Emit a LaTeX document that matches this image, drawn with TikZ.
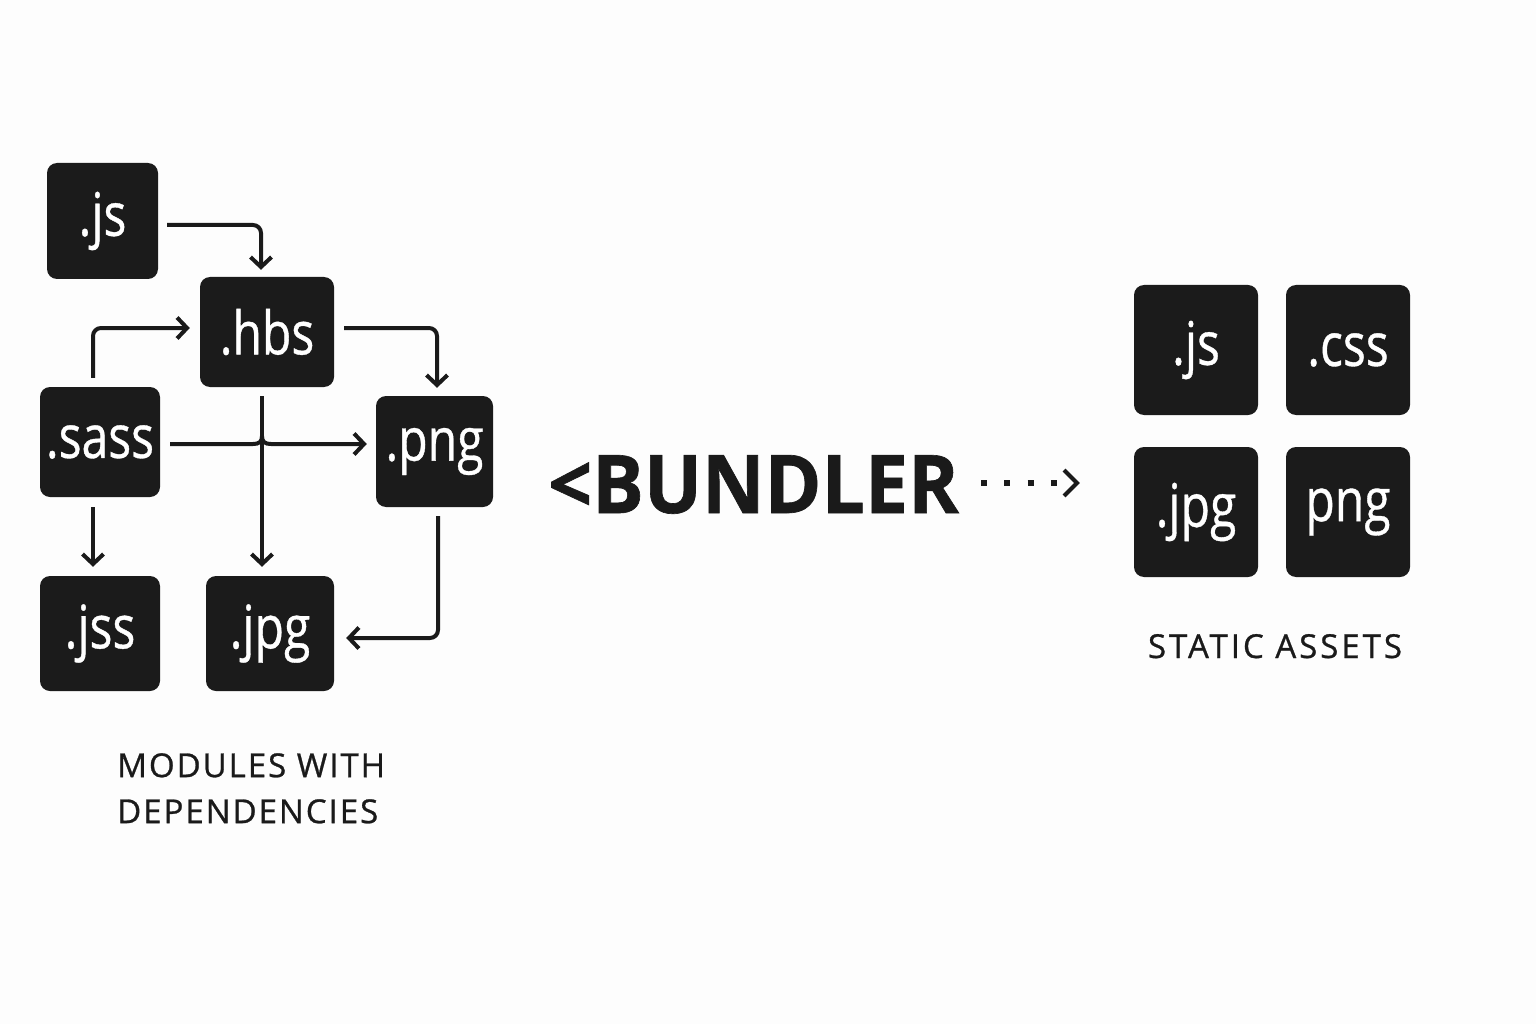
\documentclass[tikz,border=0pt]{standalone}
\usepackage{fontspec}
\setmainfont{Open Sans}
\newfontfamily\boxfont[FakeStretch=0.8,FakeBold=0.6]{Open Sans}
\newfontfamily\bundfont[FakeStretch=0.95,FakeBold=0.8]{Open Sans}
\newfontfamily\labfont[LetterSpace=6,FakeBold=0.8]{Open Sans}
\newfontfamily\statfont[LetterSpace=9,FakeBold=0.8]{Open Sans}
\usetikzlibrary{arrows.meta,calc}
\definecolor{ink}{HTML}{1A1A1A}
\definecolor{boxc}{HTML}{1B1B1B}
\definecolor{bgc}{HTML}{FDFDFD}
\begin{document}
\begin{tikzpicture}[x=1pt,y=-1pt,
  file/.style={fill=boxc, rounded corners=10pt, text=white, inner sep=0pt,
    font=\boxfont\fontsize{60}{60}\selectfont},
  bigfile/.style={file, minimum width=124pt, minimum height=130pt},
  conn/.style={draw=ink, line width=4pt, rounded corners=8pt,
    -{Straight Barb[length=10pt,width=21pt]}},
  lab/.style={inner sep=0pt, text=ink},
]
\fill[bgc] (0,0) rectangle (1536,1024);
\useasboundingbox (0,0) rectangle (1536,1024);

% left: modules with dependencies
\node[file, minimum width=111pt, minimum height=116pt] (js)   at (102.5,221)   {.js};
\node[file, minimum width=134pt, minimum height=110pt] (hbs)  at (267,332)     {.hbs};
\node[file, minimum width=120pt, minimum height=110pt] (sass) at (100,442)     {.sass};
\node[file, minimum width=117pt, minimum height=111pt] (png)  at (434.5,451.5) {.png};
\node[file, minimum width=120pt, minimum height=115pt] (jss)  at (100,633.5)   {.jss};
\node[file, minimum width=128pt, minimum height=115pt] (jpg)  at (270,633.5)   {.jpg};

\draw[conn] ([xshift=9pt,yshift=-4pt]js.east) -| ([xshift=-6pt,yshift=7pt]hbs.north);
\draw[conn] ([xshift=-7pt,yshift=9pt]sass.north) |- ([xshift=-10pt,yshift=4pt]hbs.west);
\draw[conn] ([xshift=10pt,yshift=4pt]hbs.east) -| ([xshift=2.5pt,yshift=8pt]png.north);
\draw[conn] ([xshift=-5pt,yshift=-9pt]hbs.south) -- ([xshift=-8pt,yshift=9pt]jpg.north);
\draw[conn] ([xshift=-7pt,yshift=-10pt]sass.south) -- ([xshift=-7pt,yshift=9pt]jss.north);
\draw[conn] ([xshift=3.5pt,yshift=-9pt]png.south) |- ([xshift=12pt,yshift=-4.5pt]jpg.east);
\coordinate (hop) at (262,444);
\coordinate (pngin) at ([xshift=-9pt]png.west);
\draw[conn, sharp corners] ([xshift=10pt,yshift=-2pt]sass.east) -- ($(hop)+(-9,0)$)
  .. controls ($(hop)+(-3,0)$) and ($(hop)+(0,-2)$) .. ($(hop)+(0,-8)$)
  .. controls ($(hop)+(0,-2)$) and ($(hop)+(3,0)$) .. ($(hop)+(9,0)$)
  -- (pngin |- hop);

% bundler
\node[anchor=base west, inner sep=0pt, text=ink,
  font=\bundfont\bfseries\fontsize{81}{81}\selectfont] (bundler) at (548,513) {<BUNDLER};
\coordinate (dotend) at (1059,483);
\draw[ink, line width=6pt, dash pattern=on 6pt off 17.3pt] ([xshift=22pt]bundler.east |- dotend) -- (dotend);
\draw[ink, line width=4pt, line join=miter] ($(dotend)+(5,-13)$) -- ($(dotend)+(18,0)$) -- ($(dotend)+(5,13)$);

% right: static assets
\node[bigfile] (rjs)  at (1196,350) {.js};
\node[bigfile] (rcss) at (1348,350) {.css};
\node[bigfile] (rjpg) at (1196,512) {.jpg};
\node[bigfile] (rpng) at (1348,512) {png};

\node[lab, anchor=north west, align=left, font=\labfont\fontsize{33}{46}\selectfont] (modlabel) at (117,753) {MODULES WITH\\DEPENDENCIES};
\node[lab, anchor=base, font=\statfont\fontsize{33}{46}\selectfont] (statlabel) at (1275,658) {STATIC ASSETS};
\end{tikzpicture}
\end{document}
